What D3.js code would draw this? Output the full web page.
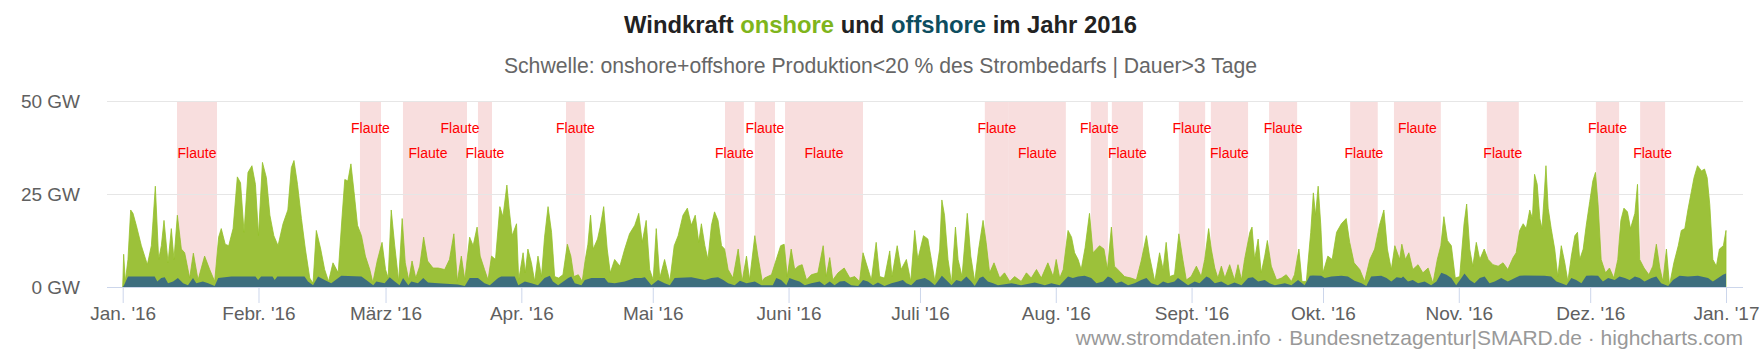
<!DOCTYPE html>
<html>
<head>
<meta charset="utf-8">
<title>Windkraft 2016</title>
<script src="https://cdn.jsdelivr.net/npm/d3@7"></script>
<style>
    body { margin: 0; background: #ffffff; }
    svg { display: block; font-family: "Liberation Sans", Arial, Helvetica, sans-serif; }
</style>
</head>
<body>
<svg id="chart" width="1761" height="352"></svg>
<script>

// onshore wind, GW  -  [day of year 2016, value]
var onshorePts = [
    [0.0,0],[0.22,8.8],[0.6,1.5],[1.2,7.4],[1.82,20.7],[2.35,19.8],[3.1,16.6],[4.26,11.1],[5.63,6.0],[6.54,11.1],
    [7.45,27.1],[8.21,7.4],[8.82,11.1],[9.43,17.9],[10.35,6.5],[11.1,15.7],[11.7,7.4],[12.48,19.3],[13.39,10.2],[14.15,9.2],
    [15.29,2.4],[16.13,9.1],[17.2,1.9],[18.7,8.3],[19.86,4.7],[21.0,1.5],[21.9,13.4],[22.5,15.7],[23.4,11.5],[24.2,11.1],
    [25.2,15.7],[26.17,29.6],[26.9,28.0],[27.7,14.7],[28.6,30.8],[29.5,32.6],[30.3,27.6],[31.0,13.8],[31.9,33.5],[32.8,29.4],
    [33.6,19.3],[34.5,13.8],[35.46,11.1],[36.6,17.0],[37.7,20.7],[38.5,32.1],[39.1,34.0],[39.9,27.6],[40.8,18.4],[41.7,10.2],
    [42.7,2.4],[43.45,1.0],[44.2,15.2],[45.2,10.2],[46.1,4.7],[47.0,1.5],[48.0,6.5],[49.2,3.8],[50.1,19.3],[50.7,28.9],
    [51.4,28.5],[52.1,33.1],[52.8,25.7],[53.6,16.6],[54.5,13.8],[55.4,8.3],[56.4,4.7],[57.1,1.2],[58.1,7.0],[59.2,12.0],
    [60.0,4.7],[60.6,2.4],[61.3,20.7],[62.1,11.1],[63.0,1.5],[63.8,18.4],[64.5,6.5],[65.3,1.9],[66.05,7.0],[66.9,2.4],
    [67.8,5.6],[68.7,13.4],[69.6,7.0],[70.85,5.1],[72.0,5.1],[73.5,4.7],[74.6,7.4],[75.6,14.3],[76.4,1.5],[77.3,8.3],
    [78.1,1.9],[79.2,13.4],[80.0,11.1],[80.9,16.1],[81.6,8.3],[82.6,4.7],[83.4,1.9],[84.2,8.3],[85.1,7.4],[86.1,21.6],
    [86.8,18.9],[87.7,27.4],[88.2,21.2],[88.9,13.8],[89.9,17.0],[90.4,1.9],[91.4,9.2],[91.9,3.8],[92.5,10.2],[93.3,6.5],
    [94.05,1.5],[94.8,8.3],[95.6,2.8],[96.3,13.4],[97.1,21.6],[97.9,14.7],[98.6,2.8],[99.5,2.4],[100.5,3.3],[101.5,11.5],
    [102.3,8.3],[103.0,2.8],[104.0,3.3],[104.9,1.5],[105.6,7.4],[106.2,11.5],[106.8,19.3],[107.4,10.2],[108.4,12.9],[109.0,16.1],
    [109.8,21.6],[110.6,10.2],[111.3,3.8],[112.3,7.4],[113.5,5.6],[114.6,10.2],[115.7,14.3],[116.9,16.6],[117.8,19.8],[118.6,12.0],
    [119.5,17.9],[120.3,4.7],[121.1,1.9],[121.8,15.7],[122.6,2.4],[123.7,7.4],[124.9,1.5],[125.9,11.1],[126.8,13.8],[127.9,19.3],
    [128.9,21.2],[129.8,16.6],[130.7,19.3],[131.5,12.0],[132.1,17.0],[132.9,11.1],[133.6,7.4],[134.4,16.6],[135.1,20.2],[135.9,17.9],
    [136.7,11.1],[137.4,10.2],[138.2,4.7],[139.3,2.4],[140.5,10.2],[141.4,1.5],[142.4,8.3],[143.1,1.9],[144.3,13.8],[145.0,8.3],
    [146.0,1.5],[146.5,2.4],[148.1,3.3],[149.2,7.4],[150.2,11.1],[151.0,11.5],[151.7,2.8],[152.6,10.2],[153.4,4.7],[154.2,5.6],
    [155.1,6.0],[156.1,1.9],[157.2,3.3],[158.7,3.8],[159.9,11.1],[160.6,2.8],[161.4,7.9],[162.1,1.9],[163.3,3.8],[164.7,5.1],
    [166.0,2.4],[167.1,2.8],[168.2,1.5],[169.0,9.2],[169.7,6.5],[170.9,1.9],[172.0,12.0],[172.8,2.8],[173.9,2.4],[175.1,9.7],
    [175.6,2.8],[176.8,11.1],[177.7,4.7],[178.9,7.4],[179.9,1.5],[180.8,15.2],[181.5,7.4],[182.8,13.8],[183.8,12.9],[184.6,7.4],
    [185.4,1.5],[186.5,10.2],[187.0,23.4],[187.6,19.3],[188.4,7.4],[189.2,1.0],[190.1,16.1],[190.7,7.4],[191.6,2.8],[192.8,19.8],
    [193.6,8.3],[194.5,1.5],[195.4,10.2],[196.4,17.9],[197.1,12.0],[197.9,3.8],[198.9,6.5],[200.2,2.4],[201.3,3.8],[202.5,1.5],
    [203.6,2.8],[205.1,1.5],[206.3,3.8],[207.4,2.4],[208.6,4.7],[209.7,2.4],[211.2,6.5],[212.4,2.8],[213.1,7.4],[213.9,2.4],
    [214.7,4.7],[215.8,15.2],[216.6,13.4],[217.3,9.2],[218.1,7.4],[218.8,4.7],[219.7,10.6],[220.7,19.8],[221.5,9.2],[222.3,10.2],
    [223.0,11.1],[224.0,10.2],[224.8,4.7],[225.7,16.1],[226.4,5.6],[227.6,4.2],[228.7,2.8],[230.2,2.4],[231.4,1.9],[232.5,7.0],
    [233.7,13.8],[234.4,8.3],[235.6,1.5],[236.7,9.2],[237.5,4.7],[238.2,12.0],[239.0,2.8],[240.1,3.3],[241.1,14.3],[242.0,7.4],
    [242.8,1.9],[243.9,2.8],[245.1,5.6],[246.2,2.8],[247.0,7.4],[247.9,15.7],[248.5,10.2],[249.3,5.1],[250.0,2.4],[250.8,5.6],
    [251.6,2.4],[252.7,6.0],[253.8,1.9],[254.6,6.0],[255.4,1.9],[256.1,7.4],[257.3,14.7],[257.8,16.1],[258.4,7.4],[259.2,12.9],
    [259.9,3.8],[260.7,8.3],[261.3,12.5],[262.2,5.6],[263.4,1.9],[264.5,2.4],[265.6,3.3],[266.8,1.5],[267.5,3.3],[268.5,10.2],
    [269.2,1.5],[270.2,1.5],[271.2,14.7],[271.8,25.3],[272.3,19.3],[272.9,27.1],[273.5,16.6],[274.0,3.8],[275.1,8.3],[276.1,7.4],
    [277.1,14.7],[278.2,17.0],[279.3,18.4],[280.1,12.0],[281.1,6.5],[282.4,4.7],[283.5,1.5],[284.7,7.4],[285.8,10.2],[286.9,16.6],
    [287.9,20.7],[288.7,10.2],[289.6,4.7],[290.4,11.1],[291.5,7.4],[292.0,11.5],[292.8,7.4],[293.6,9.2],[294.5,4.7],[295.7,6.0],
    [296.8,3.8],[298.0,5.1],[299.1,1.0],[300.1,7.4],[300.9,11.1],[301.6,18.9],[302.4,12.5],[303.3,11.1],[304.2,2.4],[305.2,2.8],
    [306.2,17.0],[306.8,22.3],[307.5,10.2],[308.2,5.6],[309.0,12.0],[309.8,7.4],[310.8,10.2],[311.7,7.4],[312.8,6.0],[314.0,5.6],
    [315.1,6.5],[316.2,4.7],[317.4,7.9],[318.1,9.2],[318.9,15.2],[319.7,17.0],[320.4,15.7],[321.2,20.7],[321.8,18.4],[322.3,30.3],
    [322.9,27.6],[323.5,18.4],[324.0,15.7],[324.5,24.8],[324.9,32.6],[325.4,21.2],[326.1,15.7],[326.9,10.2],[327.6,2.8],[328.4,11.1],
    [329.2,6.5],[329.9,1.5],[330.7,8.3],[331.5,13.8],[332.1,14.7],[332.6,7.4],[333.4,10.2],[334.1,16.6],[334.9,23.0],[335.6,28.5],
    [336.2,30.8],[336.8,22.1],[337.5,7.4],[338.5,3.8],[339.4,5.1],[340.4,2.4],[341.3,7.4],[342.0,17.9],[342.7,21.2],[343.5,20.2],
    [344.2,15.7],[345.2,19.8],[345.8,27.6],[346.3,7.4],[347.3,5.1],[348.4,3.3],[349.3,5.6],[350.1,11.5],[350.9,5.1],[351.6,1.5],
    [352.4,10.2],[353.1,0.5],[354.1,6.5],[355.1,11.1],[355.8,15.2],[356.6,15.7],[357.3,20.7],[358.1,25.7],[358.7,29.4],[359.5,32.6],
    [360.4,31.2],[361.1,31.7],[361.7,29.4],[362.3,22.1],[363.0,7.4],[363.8,5.6],[364.5,10.2],[365.4,11.1],[366.0,15.2]
];

// offshore wind, GW  -  [day of year 2016, value]
var offshorePts = [
    [0.0,0],[0.3,0.5],[1.2,2.8],[7.3,2.8],[7.9,1.5],[8.8,2.4],[9.6,2.6],[10.35,1.0],[11.5,1.5],[12.6,2.4],
    [13.8,1.0],[14.9,0.5],[16.05,2.4],[16.8,1.0],[18.3,1.5],[19.5,1.0],[21.0,0.3],[21.8,2.4],[23.3,2.6],[24.8,2.8],
    [30.3,2.8],[30.9,1.9],[31.6,2.8],[34.2,2.8],[34.7,1.9],[35.3,2.8],[41.5,2.8],[42.3,1.5],[43.45,0.5],[44.6,2.8],
    [46.1,1.9],[47.6,1.0],[49.9,3.0],[54.5,2.8],[55.6,1.9],[57.2,0.5],[57.9,1.5],[59.8,1.0],[60.95,2.6],[62.1,1.5],
    [63.2,0.5],[64.0,2.4],[65.2,0.5],[65.9,1.5],[67.4,1.0],[68.6,2.4],[69.7,1.2],[72.0,1.0],[76.5,0.7],[78.1,0.3],
    [79.2,2.4],[81.1,2.4],[82.6,1.0],[83.8,0.5],[85.7,2.4],[86.4,2.8],[89.5,2.8],[90.3,0.5],[91.8,1.5],[93.3,1.0],
    [94.8,0.5],[96.3,2.4],[97.5,3.0],[98.2,1.5],[99.4,0.5],[101.7,2.4],[102.4,2.8],[103.2,1.0],[104.7,0.5],[105.5,1.9],
    [107.0,2.4],[110.0,2.4],[110.8,1.2],[112.3,1.0],[114.6,1.5],[116.9,2.4],[118.4,2.4],[119.2,2.6],[120.7,0.5],[122.2,1.9],
    [123.7,1.0],[124.9,0.5],[126.0,2.4],[129.8,2.6],[132.9,1.9],[134.4,2.4],[135.9,2.6],[137.1,1.9],[138.2,1.0],[139.7,0.5],
    [140.9,1.7],[142.4,1.0],[144.3,1.5],[145.8,0.5],[148.4,0.5],[149.2,2.4],[150.3,1.9],[151.5,0.5],[152.2,2.4],[153.4,1.9],
    [154.5,1.5],[155.7,0.5],[157.2,1.0],[159.1,1.5],[160.2,0.5],[161.4,1.5],[162.5,0.5],[163.7,1.5],[164.8,1.6],[166.3,0.5],
    [167.9,0.3],[169.0,1.9],[170.1,1.5],[171.3,0.5],[172.4,1.2],[173.9,0.3],[175.5,1.0],[177.0,1.5],[178.1,1.9],[178.9,1.0],
    [180.0,0.5],[181.2,1.9],[183.1,2.4],[184.2,1.7],[185.4,0.5],[187.0,3.0],[188.0,1.9],[189.2,0.5],[190.3,1.9],[191.4,1.5],
    [192.6,2.8],[193.7,1.5],[194.5,0.3],[195.6,2.4],[196.4,2.8],[197.5,1.5],[198.7,1.0],[199.8,0.5],[202.9,1.0],[205.1,0.5],
    [208.2,1.2],[210.5,0.5],[212.0,1.0],[213.9,0.5],[215.8,2.8],[216.9,2.4],[218.1,2.8],[219.6,3.0],[221.1,2.4],[222.3,1.0],
    [223.8,1.5],[224.9,2.8],[225.7,2.4],[226.8,1.0],[228.0,1.5],[229.5,0.5],[231.0,1.0],[232.5,1.9],[233.7,2.4],[234.8,1.0],
    [236.3,0.5],[237.5,1.5],[238.6,1.0],[240.1,1.5],[240.9,2.4],[242.0,1.5],[243.2,0.5],[244.7,1.5],[245.8,1.0],[247.4,2.8],
    [248.1,2.4],[249.3,1.0],[250.8,1.5],[252.3,0.5],[253.8,1.2],[255.4,0.5],[256.9,2.4],[258.0,2.6],[259.2,1.5],[260.7,1.9],
    [261.8,1.0],[263.0,0.5],[265.3,1.0],[266.8,0.5],[268.3,1.9],[269.8,0.5],[271.0,3.0],[271.7,3.1],[273.6,3.0],[274.4,2.4],
    [275.9,2.8],[278.2,3.0],[279.7,2.8],[281.2,1.7],[282.8,1.0],[283.9,0.3],[285.0,2.8],[287.3,3.0],[288.5,2.4],[289.6,1.5],
    [290.8,2.6],[291.9,2.4],[292.3,2.8],[293.4,1.5],[294.5,1.9],[295.7,1.0],[297.2,1.5],[298.7,0.5],[299.9,1.5],[301.0,3.8],
    [302.2,3.3],[303.3,2.4],[304.4,0.5],[305.6,2.4],[306.3,3.6],[307.5,1.9],[308.6,1.0],[309.8,2.4],[310.9,2.8],[312.0,1.0],
    [313.2,1.5],[314.7,2.4],[316.2,1.5],[317.8,2.4],[318.9,3.0],[320.0,3.1],[324.6,3.0],[326.1,2.8],[327.3,1.5],[328.4,1.0],
    [329.6,0.5],[330.7,2.4],[331.8,1.9],[333.0,1.0],[334.1,3.0],[335.3,3.1],[336.8,3.0],[337.9,1.5],[339.1,2.4],[340.6,1.9],
    [341.7,2.8],[342.9,2.4],[344.0,1.9],[345.2,2.8],[346.3,2.4],[347.4,1.5],[349.0,2.4],[350.1,2.8],[351.2,1.0],[352.8,0.3],
    [353.9,1.9],[355.4,3.0],[357.3,2.8],[359.6,3.0],[361.9,2.4],[363.0,1.5],[364.2,2.4],[365.3,3.3],[366.0,3.6]
];

// Flaute periods (day of year 2016)
var flauteFrom = [12.4, 54.16, 63.98, 75.4, 81.1, 101.2, 137.5, 144.3, 151.2, 196.8, 202.3,
                  221.0, 225.8, 241.1, 248.4, 261.7, 280.2, 290.2, 311.4, 336.3, 346.4];
var flauteTo   = [21.53, 58.96, 75.4, 78.6, 84.3, 105.5, 141.8, 148.9, 169.0, 202.3, 215.3,
                  224.9, 232.9, 247.1, 256.9, 268.1, 286.5, 300.9, 318.7, 341.6, 352.1];

var monthLabels = ["Jan. '16", "Febr. '16", "März '16", "Apr. '16", "Mai '16", "Juni '16", "Juli '16",
                   "Aug. '16", "Sept. '16", "Okt. '16", "Nov. '16", "Dez. '16", "Jan. '17"];
var gwTicks = [0, 25, 50];

var titleParts = [["Windkraft ", "#222222"], ["onshore", "#7fb51c"], [" und ", "#222222"],
                  ["offshore", "#0d4d5f"], [" im Jahr 2016", "#222222"]];
var subtitle = "Schwelle: onshore+offshore Produktion<20 % des Strombedarfs | Dauer>3 Tage";
var credits = "www.stromdaten.info \u00b7 Bundesnetzagentur|SMARD.de \u00b7 highcharts.com";


// plot area
var plotL = 107, plotR = 1743, plotT = 101, plotB = 287;

var t0 = Date.UTC(2016, 0, 1), t1 = Date.UTC(2017, 0, 1);
function dayToDate(d) { return new Date(t0 + d * 864e5); }

var svg = d3.select("#chart");

var x = d3.scaleUtc()
    .domain([new Date(t0), new Date(t1)])
    .range([plotL + 15.7, plotR - 17]);

var y = d3.scaleLinear()
    .domain([0, 50])
    .range([plotB, plotT]);

// plot bands
svg.append("g")
    .selectAll("rect")
    .data(flauteFrom)
    .enter().append("rect")
    .attr("x", function(d) { return x(dayToDate(d)); })
    .attr("width", function(d, i) { return x(dayToDate(flauteTo[i])) - x(dayToDate(d)); })
    .attr("y", plotT)
    .attr("height", plotB - plotT)
    .attr("fill", "#f8dede");

// grid lines
svg.append("g")
    .selectAll("line")
    .data(gwTicks.slice(1))
    .enter().append("line")
    .attr("x1", plotL).attr("x2", plotR)
    .attr("y1", function(d) { return y(d) + 0.5; })
    .attr("y2", function(d) { return y(d) + 0.5; })
    .attr("stroke", "#e6e6e6");

// areas (both from zero, offshore in front)
var area = d3.area()
    .x(function(d) { return x(dayToDate(d[0])); })
    .y0(plotB)
    .y1(function(d) { return y(d[1]); });

svg.append("path")
    .attr("d", area(onshorePts))
    .attr("fill", "#9cc13a")
    .attr("stroke", "#94c02a")
    .attr("stroke-width", 0.8);

svg.append("path")
    .attr("d", area(offshorePts))
    .attr("fill", "#3d6e7e");

// band labels, alternating rows
svg.append("g")
    .selectAll("text")
    .data(flauteFrom)
    .enter().append("text")
    .attr("x", function(d, i) { return (x(dayToDate(d)) + x(dayToDate(flauteTo[i]))) / 2; })
    .attr("y", function(d, i) { return i % 2 == 0 ? 158.3 : 133.3; })
    .attr("text-anchor", "middle")
    .attr("font-size", "14px")
    .attr("fill", "#ff0000")
    .text("Flaute");

// x axis
var xAxis = svg.append("g")
    .attr("transform", "translate(0," + plotB + ")")
    .call(d3.axisBottom(x)
        .tickValues(d3.utcMonth.range(new Date(t0), new Date(t1 + 1)))
        .tickSize(16)
        .tickPadding(4)
        .tickFormat(function(d, i) { return monthLabels[i]; }));
xAxis.select(".domain").remove();
xAxis.selectAll("line").attr("stroke", "#ccd6eb");
xAxis.selectAll("text").attr("font-size", "19px").attr("fill", "#606060")
    .attr("font-family", "Liberation Sans, Arial, sans-serif");
xAxis.append("line")
    .attr("x1", plotL).attr("x2", plotR)
    .attr("y1", 0.5).attr("y2", 0.5)
    .attr("stroke", "#ccd6eb");

// y axis
var yAxis = svg.append("g")
    .attr("transform", "translate(" + plotL + ",0)")
    .call(d3.axisLeft(y)
        .tickValues(gwTicks)
        .tickSize(0)
        .tickPadding(27)
        .tickFormat(function(d) { return d + " GW"; }));
yAxis.select(".domain").remove();
yAxis.selectAll("text").attr("font-size", "19px").attr("fill", "#606060")
    .attr("font-family", "Liberation Sans, Arial, sans-serif");

// title + subtitle
var title = svg.append("text")
    .attr("x", 880.5).attr("y", 33)
    .attr("text-anchor", "middle")
    .attr("font-size", "23.8px")
    .attr("font-weight", "bold");
title.selectAll("tspan")
    .data(titleParts)
    .enter().append("tspan")
    .attr("fill", function(d) { return d[1]; })
    .text(function(d) { return d[0]; });

svg.append("text")
    .attr("x", 880.5).attr("y", 73)
    .attr("text-anchor", "middle")
    .attr("font-size", "21.2px")
    .attr("fill", "#666666")
    .text(subtitle);

// credits
svg.append("text")
    .attr("x", plotR).attr("y", 344.5)
    .attr("text-anchor", "end")
    .attr("font-size", "21px")
    .attr("fill", "#999999")
    .text(credits);

</script>
</body>
</html>
